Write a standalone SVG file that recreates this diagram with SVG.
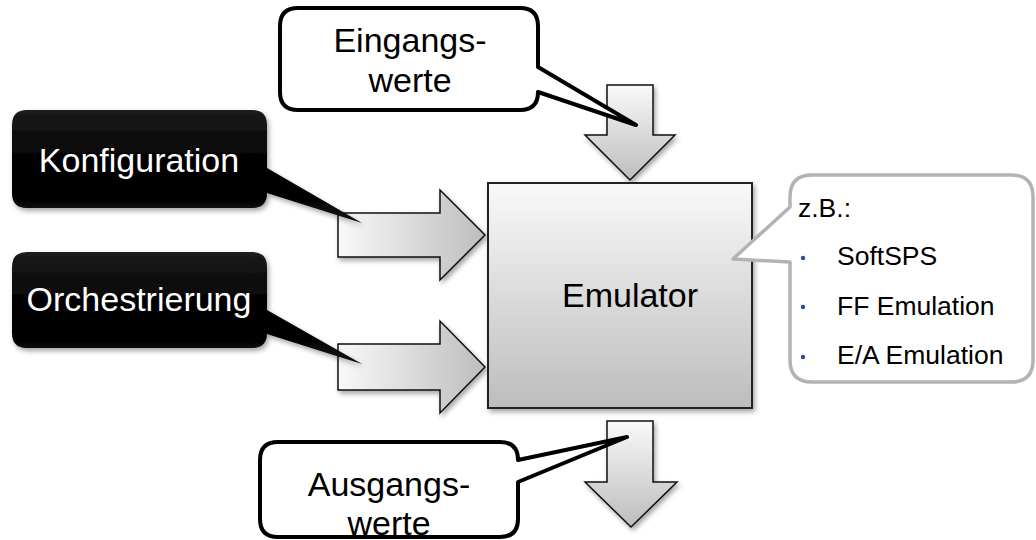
<svg xmlns="http://www.w3.org/2000/svg" width="1036" height="540" viewBox="0 0 1036 540">
<defs>
  <linearGradient id="gv" x1="0" y1="0" x2="0" y2="1">
    <stop offset="0" stop-color="#f9f9f9"/>
    <stop offset="1" stop-color="#bdbdbd"/>
  </linearGradient>
  <linearGradient id="gh" x1="0" y1="0" x2="1" y2="0">
    <stop offset="0" stop-color="#f9f9f9"/>
    <stop offset="1" stop-color="#bdbdbd"/>
  </linearGradient>
  <linearGradient id="gb" x1="0" y1="0" x2="0" y2="1">
    <stop offset="0" stop-color="#1c1c1c"/>
    <stop offset="0.5" stop-color="#000"/>
    <stop offset="1" stop-color="#0a0a0a"/>
  </linearGradient>
  <filter id="sh" x="-10%" y="-10%" width="130%" height="130%">
    <feDropShadow dx="2" dy="3" stdDeviation="2.5" flood-color="#000" flood-opacity="0.35"/>
  </filter>
</defs>
<style>
  .t { font-family: "Liberation Sans", Arial, sans-serif; font-size: 34px; fill: #000; }
  .w { fill: #fff; }
  .s { font-size: 26.5px; }
  .arr { stroke: #111; stroke-width: 1.5; stroke-linejoin: miter; }
  .cw { fill: #fff; stroke: #000; stroke-width: 4; stroke-linejoin: round; }
  .blk { fill: url(#gb); filter: url(#sh); }
</style>
<rect width="1036" height="540" fill="#fff"/>

<g id="connectors">
  <polygon class="arr" fill="url(#gv)" filter="url(#sh)" points="607,85 653,85 653,135 675,135 630,180 585,135 607,135"/>
  <polygon class="arr" fill="url(#gv)" filter="url(#sh)" points="607,421 653,421 653,482 677,482 631,527 585,482 607,482"/>
  <polygon class="arr" fill="url(#gh)" filter="url(#sh)" points="338,213 440,213 440,190 485,235 440,280 440,257 338,257"/>
  <polygon class="arr" fill="url(#gh)" filter="url(#sh)" points="338,344 440,344 440,321 485,367 440,413 440,390 338,390"/>
</g>

<g id="emulator">
  <rect x="488" y="183" width="264" height="225" fill="url(#gv)" stroke="#222" stroke-width="2" filter="url(#sh)"/>
  <text class="t" x="630" y="307" text-anchor="middle">Emulator</text>
</g>

<g id="eingangswerte">
  <path class="cw" d="M298,8 H520 Q538,8 538,26 V67 L636,125 L538,92 Q538,110 520,110 H298 Q280,110 280,92 V26 Q280,8 298,8 Z"/>
  <text class="t" x="410" y="52" text-anchor="middle">Eingangs-</text>
  <text class="t" x="410" y="92" text-anchor="middle">werte</text>
</g>

<g id="ausgangswerte">
  <path class="cw" d="M278,442 H500 Q518,442 518,460 L627,437 L518,482 V519 Q518,537 500,537 H278 Q260,537 260,519 V460 Q260,442 278,442 Z"/>
  <text class="t" x="389" y="496" text-anchor="middle">Ausgangs-</text>
  <text class="t" x="389" y="535" text-anchor="middle">werte</text>
</g>

<g id="konfiguration">
  <path class="blk" d="M27,110 H252 Q267,110 267,125 V168 L362,223 L267,193 V193 Q267,208 252,208 H27 Q12,208 12,193 V125 Q12,110 27,110 Z"/>
  <text class="t w" x="139" y="172" text-anchor="middle">Konfiguration</text>
</g>

<g id="orchestrierung">
  <path class="blk" d="M27,252 H252 Q267,252 267,267 V310 L362,364 L267,334 V333 Q267,348 252,348 H27 Q12,348 12,333 V267 Q12,252 27,252 Z"/>
  <text class="t w" x="139" y="311" text-anchor="middle">Orchestrierung</text>
</g>

<g id="beispiele">
  <path d="M812,175 H1011 Q1033,175 1033,197 V360 Q1033,382 1011,382 H812 Q790,382 790,360 V262 L733,259 L790,207 V197 Q790,175 812,175 Z" fill="#fff" stroke="#b3b3b3" stroke-width="3.5" stroke-linejoin="round"/>
  <text class="t s" x="798" y="217">z.B.:</text>
  <circle cx="803" cy="258" r="2.2" fill="#2e4b9b"/>
  <circle cx="803" cy="307" r="2.2" fill="#2e4b9b"/>
  <circle cx="803" cy="357" r="2.2" fill="#2e4b9b"/>
  <text class="t s" x="837" y="265">SoftSPS</text>
  <text class="t s" x="837" y="315">FF Emulation</text>
  <text class="t s" x="837" y="364">E/A Emulation</text>
</g>
</svg>
